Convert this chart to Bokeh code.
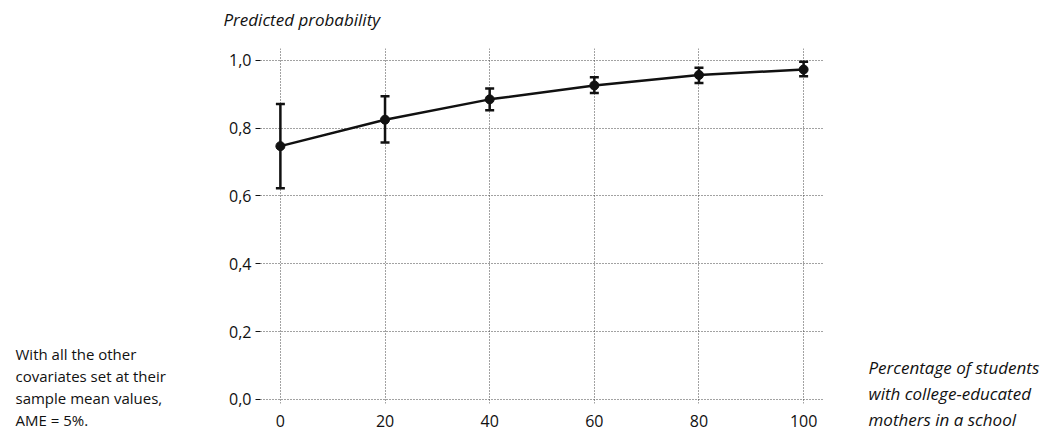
from bokeh.plotting import figure
from bokeh.models import ColumnDataSource, Whisker, TeeHead, FixedTicker, Range1d
from bokeh.layouts import row, column
from bokeh.core.properties import value
from bokeh.embed import file_html
from bokeh.resources import INLINE

# data
pct = [0, 20, 40, 60, 80, 100]
prob = [0.747, 0.825, 0.885, 0.926, 0.957, 0.973]
lower = [0.623, 0.758, 0.853, 0.904, 0.933, 0.953]
upper = [0.871, 0.894, 0.917, 0.950, 0.978, 0.996]
y_ticks = [0.0, 0.2, 0.4, 0.6, 0.8, 1.0]
y_tick_labels = ["0,0", "0,2", "0,4", "0,6", "0,8", "1,0"]
x_ticks = [0, 20, 40, 60, 80, 100]
y_title = "Predicted probability"
left_note = ["With all the other", "covariates set at their", "sample mean values,", "AME = 5%."]
x_title = ["Percentage of students", " with college-educated", "mothers in a school"]

FONT = "Open Sans"
INK = "#111111"

LW, CW, RW = 200, 655, 200   # widths of left text panel, centre, right text panel
TH, MH = 40, 390             # heights of top text panel and main plot


def text_panel(w, h):
    f = figure(width=w, height=h, output_backend="svg", toolbar_location=None,
               x_range=Range1d(0, w), y_range=Range1d(h, 0),
               x_axis_type=None, y_axis_type=None,
               min_border=0, min_border_left=0, min_border_right=0,
               min_border_top=0, min_border_bottom=0)
    f.outline_line_color = None
    f.grid.visible = False
    f.background_fill_color = "white"
    f.border_fill_color = "white"
    if "frame_align" in f.properties():
        f.frame_align = False
    return f


# main chart
src = ColumnDataSource(dict(x=pct, y=prob, lo=lower, hi=upper))
p = figure(width=CW, height=MH, output_backend="svg", toolbar_location=None,
           x_range=Range1d(-3.8, 103.8), y_range=Range1d(-0.012, 1.035),
           min_border_left=60, min_border_right=32, min_border_top=8, min_border_bottom=27)
p.outline_line_color = None
p.background_fill_color = "white"
p.border_fill_color = "white"
if "frame_align" in p.properties():
    p.frame_align = False

p.xaxis.ticker = FixedTicker(ticks=x_ticks)
p.yaxis.ticker = FixedTicker(ticks=y_ticks)
p.yaxis.major_label_overrides = dict(zip(y_ticks, y_tick_labels))
for ax in (p.xaxis[0], p.yaxis[0]):
    ax.axis_line_color = None
    ax.minor_tick_line_color = None
    ax.major_label_text_font = FONT
    ax.major_label_text_font_size = "16px"
    ax.major_label_text_color = INK
p.xaxis.major_tick_line_color = None
p.xaxis.major_label_standoff = 5
p.yaxis.major_tick_line_color = INK
p.yaxis.major_tick_out = 5
p.yaxis.major_tick_in = 0
p.yaxis.major_label_standoff = 4

for g in (p.xgrid[0], p.ygrid[0]):
    g.grid_line_color = "#444444"
    g.grid_line_dash = "1 2"
    g.grid_line_width = 1

p.line("x", "y", source=src, line_color=INK, line_width=2.5)
p.scatter("x", "y", source=src, size=9, color=INK)
p.add_layout(Whisker(base="x", lower="lo", upper="hi", source=src, line_color=INK, line_width=2.5,
                     upper_head=TeeHead(size=9, line_width=2.5, line_color=INK),
                     lower_head=TeeHead(size=9, line_width=2.5, line_color=INK)))

# top panel: y title
top = text_panel(CW, TH)
top.text(x=[23], y=[19], text=[y_title], text_font=value(FONT), text_font_size="17px",
         text_font_style="italic", text_color=INK, text_baseline="middle", text_align="left")

# left panel: note
left = text_panel(LW, TH + MH)
left.text(x=[15] * len(left_note), y=[353 + 22.3 * i for i in range(len(left_note))], text=left_note,
          text_font=value(FONT), text_font_size="15px", text_color=INK,
          text_baseline="middle", text_align="left")

# right panel: x title
right = text_panel(RW, TH + MH)
right.text(x=[13, 13, 13], y=[367 + 26 * i for i in range(len(x_title))], text=x_title,
           text_font=value(FONT), text_font_size="17px", text_font_style="italic", text_color=INK,
           text_baseline="middle", text_align="left")

layout = row(left, column(top, p, spacing=0), right, spacing=0)
open("out.html", "w").write(file_html(layout, INLINE))
